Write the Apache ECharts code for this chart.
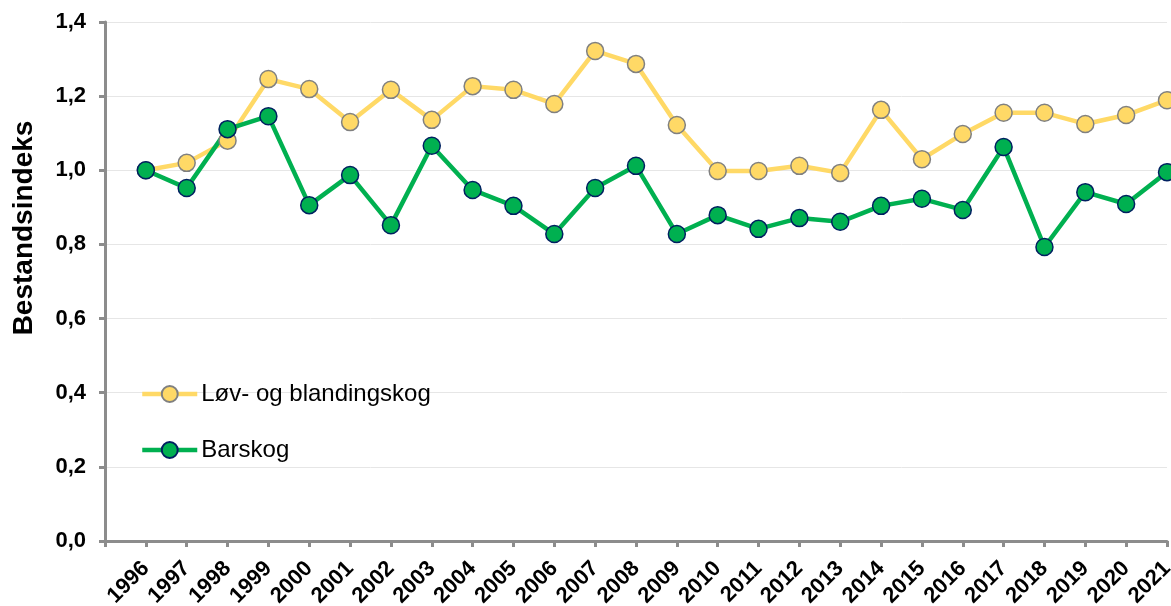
<!DOCTYPE html>
<html>
<head>
<meta charset="utf-8">
<script src="https://cdn.jsdelivr.net/npm/echarts@6/dist/echarts.min.js"></script>
<style>
html,body{margin:0;padding:0;background:#fff;}
#chart{width:1171px;height:606px;}
</style>
</head>
<body>
<div id="chart"></div>
<script>
const years = ['1996','1997','1998','1999','2000','2001','2002','2003','2004','2005','2006','2007','2008','2009','2010','2011','2012','2013','2014','2015','2016','2017','2018','2019','2020','2021'];
const lovValues = [1.00,1.02,1.08,1.246,1.219,1.130,1.217,1.136,1.227,1.217,1.179,1.322,1.287,1.122,0.998,0.998,1.012,0.993,1.163,1.030,1.098,1.155,1.155,1.125,1.149,1.189];
const barValues = [1.00,0.952,1.111,1.146,0.906,0.987,0.852,1.066,0.947,0.904,0.828,0.952,1.012,0.828,0.879,0.842,0.871,0.861,0.904,0.923,0.893,1.063,0.793,0.941,0.909,0.995];
const seriesNames = ['Løv- og blandingskog','Barskog'];
const yAxisTitle = 'Bestandsindeks';

const FONT = '"Liberation Sans", Arial, sans-serif';
const chart = echarts.init(document.getElementById('chart'), null, {renderer:'canvas'});
const cats = [''].concat(years);
const pad = arr => [null].concat(arr);

chart.setOption({
  animation: false,
  backgroundColor: '#fff',
  grid: {left: 105, right: 4, top: 22, bottom: 65, containLabel: false, outerBoundsMode: 'none'},
  legend: {
    orient: 'vertical', left: 140, top: 382, padding: 0,
    itemWidth: 55, itemHeight: 20, itemGap: 32,
    lineStyle: {width: 4.5},
    textStyle: {fontFamily: FONT, fontSize: 24, color: '#000', padding: [0,0,0,-1]},
    data: seriesNames
  },
  graphic: [{
    type: 'text', x: 24, y: 228, rotation: Math.PI/2,
    style: {text: yAxisTitle, font: 'bold 28px ' + FONT, fill: '#000', textAlign: 'center', textVerticalAlign: 'middle'}
  }],
  xAxis: {
    type: 'category', data: cats, boundaryGap: false,
    axisLine: {lineStyle: {color: '#8c8c8c', width: 3}},
    axisTick: {show: true, interval: 0, length: 6, lineStyle: {color: '#8c8c8c', width: 3}},
    axisLabel: {interval: 0, rotate: 45, margin: 24, fontFamily: FONT, fontSize: 22, fontWeight: 'bold', color: '#000'},
    splitLine: {show: false}
  },
  yAxis: {
    type: 'value', min: 0, max: 1.4, interval: 0.2,
    axisLine: {show: true, lineStyle: {color: '#8c8c8c', width: 3}},
    axisTick: {show: true, length: 6, lineStyle: {color: '#8c8c8c', width: 3}},
    axisLabel: {margin: 19, fontFamily: FONT, fontSize: 22, fontWeight: 'bold', color: '#000',
      formatter: v => v.toFixed(1).replace('.', ',')},
    splitLine: {lineStyle: {color: '#e6e6e6', width: 1}}
  },
  series: [
    {
      name: seriesNames[0], type: 'line', data: pad(lovValues), clip: false,
      symbol: 'circle', symbolSize: 17, showAllSymbol: true,
      lineStyle: {color: '#FFD966', width: 4.5},
      itemStyle: {color: '#FFD966', borderColor: '#808080', borderWidth: 1.5},
      emphasis: {disabled: true}
    },
    {
      name: seriesNames[1], type: 'line', data: pad(barValues), clip: false,
      symbol: 'circle', symbolSize: 17, showAllSymbol: true,
      lineStyle: {color: '#00B050', width: 4.5},
      itemStyle: {color: '#00B050', borderColor: '#002060', borderWidth: 1.5},
      emphasis: {disabled: true}
    }
  ]
});
</script>
</body>
</html>
